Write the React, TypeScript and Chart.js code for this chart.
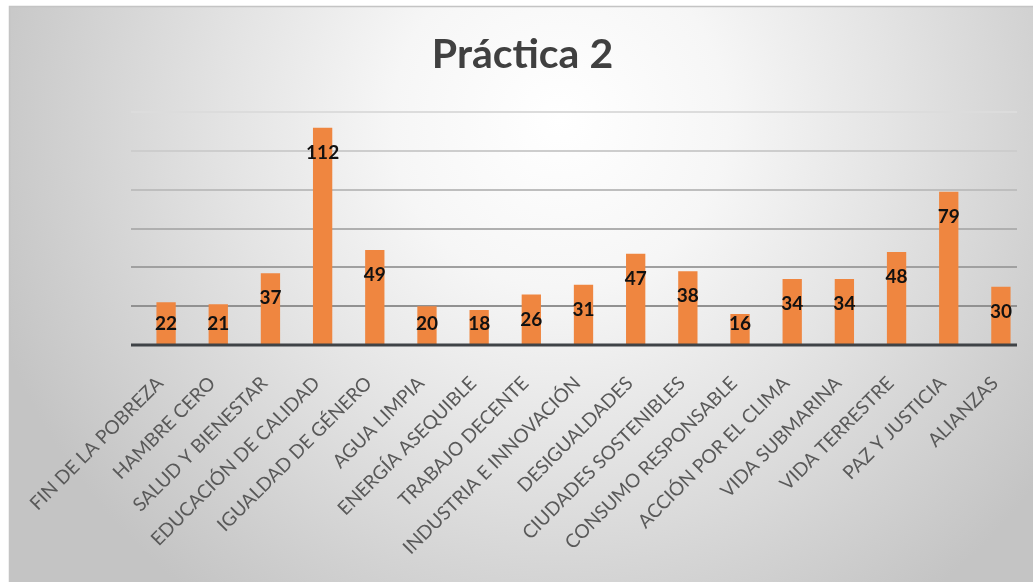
import React, { useEffect, useRef } from "react";
import { Chart, registerables } from "chart.js";

Chart.register(...registerables);

const categories = [
  "FIN DE LA POBREZA",
  "HAMBRE CERO",
  "SALUD Y BIENESTAR",
  "EDUCACIÓN DE CALIDAD",
  "IGUALDAD DE GÉNERO",
  "AGUA LIMPIA",
  "ENERGÍA ASEQUIBLE",
  "TRABAJO DECENTE",
  "INDUSTRIA E INNOVACIÓN",
  "DESIGUALDADES",
  "CIUDADES SOSTENIBLES",
  "CONSUMO RESPONSABLE",
  "ACCIÓN POR EL CLIMA",
  "VIDA SUBMARINA",
  "VIDA TERRESTRE",
  "PAZ Y JUSTICIA",
  "ALIANZAS",
];
const values = [22, 21, 37, 112, 49, 20, 18, 26, 31, 47, 38, 16, 34, 34, 48, 79, 30];
const yTicks = [0, 20, 40, 60, 80, 100, 120];
const titleText = "Práctica 2";

const FONT = "Lato, 'Open Sans', sans-serif";

const bgPlugin = {
  id: "bgFrame",
  beforeDraw(chart: any) {
    const { ctx, width, height } = chart;
    ctx.save();
    ctx.fillStyle = "#ffffff";
    ctx.fillRect(0, 0, width, height);
    const g = ctx.createRadialGradient(560, 120, 0, 560, 120, 600);
    g.addColorStop(0, "#ffffff");
    g.addColorStop(0.28, "#f6f6f6");
    g.addColorStop(0.55, "#e4e4e4");
    g.addColorStop(0.8, "#d2d2d2");
    g.addColorStop(1, "#c4c4c4");
    ctx.fillStyle = g;
    ctx.fillRect(9, 6, width - 9, height - 6);
    ctx.strokeStyle = "#c4c4c4";
    ctx.lineWidth = 1.5;
    ctx.beginPath();
    ctx.moveTo(9.5, height);
    ctx.lineTo(9.5, 6.5);
    ctx.lineTo(width, 6.5);
    ctx.stroke();
    ctx.restore();
  },
};

const gridPlugin = {
  id: "customGrid",
  beforeDatasetsDraw(chart: any) {
    const { ctx, chartArea, scales } = chart;
    const y = scales.y;
    const x0 = chartArea.left - 9;
    const x1 = chartArea.right - 10;
    ctx.save();
    yTicks.forEach((v) => {
      if (v === 0) return;
      const py = Math.round(y.getPixelForValue(v));
      const t = (v - 20) / 100;
      const c = Math.round(145 + t * 75);
      ctx.strokeStyle = `rgb(${c},${c},${c})`;
      ctx.lineWidth = 2;
      ctx.beginPath();
      ctx.moveTo(x0, py);
      ctx.lineTo(x1, py);
      ctx.stroke();
    });
    ctx.restore();
  },
  afterDatasetsDraw(chart: any) {
    const { ctx, chartArea, scales } = chart;
    const y = scales.y;
    const base = y.getPixelForValue(0);
    ctx.save();
    ctx.strokeStyle = "#3f4347";
    ctx.lineWidth = 3;
    ctx.beginPath();
    ctx.moveTo(chartArea.left - 9, base);
    ctx.lineTo(chartArea.right - 10, base);
    ctx.stroke();

    const meta = chart.getDatasetMeta(0);
    ctx.fillStyle = "#111111";
    ctx.font = `bold 19px ${FONT}`;
    ctx.textAlign = "center";
    ctx.textBaseline = "middle";
    meta.data.forEach((bar: any, i: number) => {
      const ly = Math.min(bar.y + 25, base - 21);
      ctx.fillText(String(values[i]), bar.x, ly);
    });
    ctx.restore();
  },
};

export default function App() {
  const ref = useRef<HTMLCanvasElement | null>(null);

  useEffect(() => {
    if (!ref.current) return;
    const chart = new Chart(ref.current, {
      type: "bar",
      data: {
        labels: categories,
        datasets: [
          {
            data: values,
            backgroundColor: "#EF8640",
            barPercentage: 0.37,
            categoryPercentage: 1,
          },
        ],
      },
      options: {
        animation: false,
        responsive: false,
        maintainAspectRatio: false,
        layout: { padding: { left: 18, right: 6, top: 0, bottom: 0 } },
        plugins: {
          legend: { display: false },
          tooltip: { enabled: false },
          title: {
            display: true,
            text: titleText,
            color: "#404040",
            font: { family: FONT, size: 41, weight: "bold", lineHeight: 1.2 },
            padding: { top: 30, bottom: 33 },
          },
        },
        scales: {
          x: {
            grid: { display: false, drawTicks: false },
            border: { display: false },
            ticks: {
              autoSkip: false,
              maxRotation: 45,
              minRotation: 45,
              color: "#595959",
              padding: 27,
              labelOffset: -6,
              font: { family: FONT, size: 19 },
            },
            afterFit: (s: any) => {
              s.height = 237;
              s.paddingLeft = 0;
              s.paddingRight = 0;
            },
          },
          y: {
            display: true,
            min: 0,
            max: 120,
            grid: { display: false, drawTicks: false },
            border: { display: false },
            ticks: { display: false, stepSize: 20 },
            afterFit: (s: any) => {
              s.width = 122;
            },
          },
        },
      },
      plugins: [bgPlugin, gridPlugin],
    });
    return () => chart.destroy();
  }, []);

  return (
    <div style={{ position: "fixed", left: 0, top: 0, width: 1033, height: 582 }}>
      <canvas ref={ref} width={1033} height={582} style={{ width: 1033, height: 582, display: "block" }} />
    </div>
  );
}
